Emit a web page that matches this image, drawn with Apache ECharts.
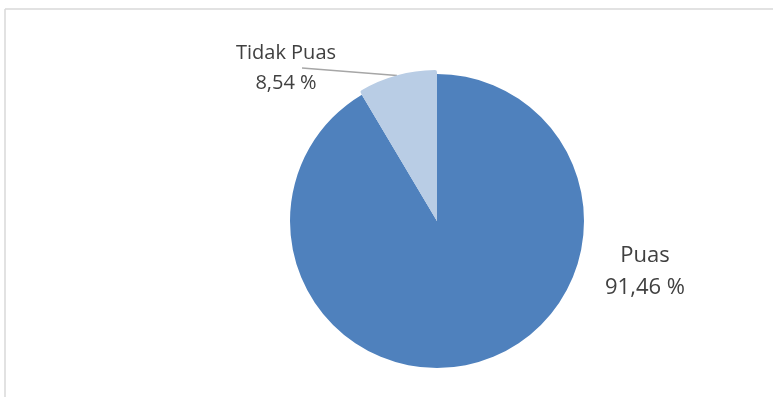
<!DOCTYPE html>
<html>
<head>
    <meta charset="utf-8">
    <title>Kepuasan</title>
    <script src="https://cdn.jsdelivr.net/npm/echarts@6/dist/echarts.min.js"></script>
    <style>
        html, body {margin: 0; padding: 0; background: #fff;}
        #main {width: 773px; height: 397px;}
    </style>
</head>
<body>
<div id="main"></div>
<script type="text/javascript">
    // data
    var categories = ['Puas', 'Tidak Puas'];
    var values = [91.46, 8.54];
    var colors = ['#4f81bd', '#b9cde5'];

    function fmt(p) {
        return p.name + '\n' + String(p.value).replace('.', ',') + ' %';
    }

    var myChart = echarts.init(document.getElementById('main'));

    var baseData = categories.map(function (c, i) {
        return {name: c, value: values[i], itemStyle: {color: colors[i]}};
    });
    // the small slice is drawn a bit bigger, like the original
    var bigData = categories.map(function (c, i) {
        return {
            name: c, value: values[i],
            itemStyle: {color: i === 1 ? colors[i] : 'rgba(0,0,0,0)'},
            label: {show: i === 1},
            labelLine: {show: i === 1}
        };
    });

    var option = {
        animation: false,
        graphic: [
            {type: 'line', shape: {x1: 5, y1: 9, x2: 773, y2: 9}, style: {stroke: '#d9d9d9', lineWidth: 1.5}},
            {type: 'line', shape: {x1: 5, y1: 9, x2: 5, y2: 397}, style: {stroke: '#d9d9d9', lineWidth: 1.5}}
        ],
        series: [
            {
                type: 'pie',
                center: [437, 221],
                radius: 147,
                startAngle: 90,
                clockwise: true,
                silent: true,
                data: baseData,
                label: {
                    show: true,
                    formatter: fmt,
                    fontFamily: 'Open Sans',
                    fontSize: 22,
                    lineHeight: 32,
                    color: '#404040',
                    align: 'center'
                },
                labelLine: {show: false},
                labelLayout: function (p) {
                    if (p.dataIndex === 0) {
                        return {x: 645, y: 272, align: 'center', verticalAlign: 'middle'};
                    }
                    return {x: 0, y: -200};
                }
            },
            {
                type: 'pie',
                center: [437, 221],
                radius: 151,
                startAngle: 90,
                clockwise: true,
                silent: true,
                data: bigData,
                itemStyle: {borderRadius: 2},
                label: {
                    formatter: fmt,
                    fontFamily: 'Open Sans',
                    fontSize: 20,
                    lineHeight: 30,
                    color: '#404040',
                    align: 'center'
                },
                labelLine: {
                    length: 10,
                    length2: 10,
                    lineStyle: {color: '#a6a6a6', width: 1.5}
                },
                labelLayout: function (p) {
                    if (p.dataIndex !== 1) return {};
                    var pts = p.labelLinePoints;
                    return {
                        x: 286, y: 68, align: 'center', verticalAlign: 'middle',
                        labelLinePoints: [pts[0], [302, 68], [302, 68]]
                    };
                }
            }
        ]
    };
    myChart.setOption(option);
</script>
</body>
</html>
